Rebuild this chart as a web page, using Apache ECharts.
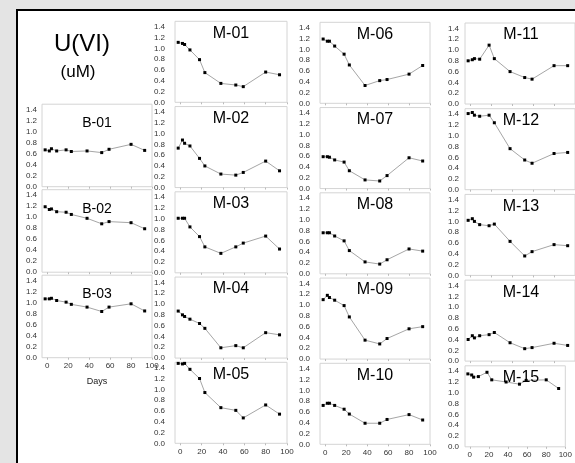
<!DOCTYPE html>
<html>
<head>
    <meta charset="utf-8">
    <title>U(VI)</title>
    <script src="https://cdn.jsdelivr.net/npm/echarts@6/dist/echarts.min.js"></script>
    <style>
        html, body { margin: 0; padding: 0; background: #e4e4e4; }
        #main { width: 575px; height: 463px; }
    </style>
</head>
<body>
<div id="main"></div>
<script type="text/javascript">
    // sampling days (same for every well)
    var days = [-2, 2, 4, 9, 18, 23, 38, 52, 59, 80, 93];
    var xTicks = [0, 20, 40, 60, 80, 100];
    var yTicks = [0, 0.2, 0.4, 0.6, 0.8, 1.0, 1.2, 1.4];

    // U(VI) in uM per well
    var B01 = [0.67, 0.65, 0.69, 0.65, 0.67, 0.64, 0.65, 0.62, 0.68, 0.77, 0.66];
    var B02 = [1.19, 1.14, 1.15, 1.10, 1.09, 1.05, 0.98, 0.88, 0.92, 0.90, 0.79];
    var B03 = [1.07, 1.07, 1.08, 1.04, 1.01, 0.97, 0.92, 0.84, 0.92, 0.98, 0.85];
    var M01 = [1.11, 1.09, 1.07, 0.97, 0.79, 0.55, 0.35, 0.32, 0.29, 0.56, 0.51];
    var M02 = [0.73, 0.88, 0.82, 0.77, 0.54, 0.40, 0.25, 0.23, 0.28, 0.49, 0.31];
    var M03 = [1.01, 1.01, 1.01, 0.85, 0.67, 0.48, 0.36, 0.48, 0.55, 0.68, 0.44];
    var M04 = [0.87, 0.80, 0.77, 0.72, 0.64, 0.55, 0.19, 0.23, 0.19, 0.47, 0.43];
    var M05 = [1.48, 1.47, 1.48, 1.37, 1.20, 0.94, 0.66, 0.61, 0.47, 0.71, 0.54];
    var M06 = [1.19, 1.15, 1.15, 1.06, 0.91, 0.71, 0.33, 0.42, 0.44, 0.54, 0.70];
    var M07 = [0.59, 0.59, 0.58, 0.53, 0.49, 0.33, 0.16, 0.14, 0.24, 0.57, 0.51];
    var M08 = [0.76, 0.76, 0.76, 0.70, 0.61, 0.43, 0.22, 0.18, 0.26, 0.46, 0.42];
    var M09 = [1.10, 1.18, 1.14, 1.09, 0.99, 0.78, 0.35, 0.28, 0.38, 0.56, 0.60];
    var M10 = [0.72, 0.76, 0.76, 0.72, 0.65, 0.56, 0.39, 0.39, 0.46, 0.55, 0.45];
    var M11 = [0.80, 0.82, 0.84, 0.83, 1.09, 0.84, 0.60, 0.49, 0.46, 0.71, 0.71];
    var M12 = [1.41, 1.43, 1.38, 1.36, 1.38, 1.24, 0.76, 0.55, 0.49, 0.67, 0.69];
    var M13 = [1.02, 1.05, 1.00, 0.94, 0.92, 0.95, 0.63, 0.36, 0.44, 0.57, 0.55];
    var M14 = [0.40, 0.47, 0.43, 0.47, 0.49, 0.53, 0.34, 0.23, 0.25, 0.33, 0.29];
    var M15 = [1.35, 1.33, 1.29, 1.30, 1.38, 1.24, 1.20, 1.16, 1.23, 1.24, 1.08];

    var columns = [
        { names: ['B-01', 'B-02', 'B-03'], values: [B01, B02, B03],
          left: 42, width: 110, bottom0: 186.7, step: 85.5, height: 82.5, labelGap: 5, titleDy: 19, titleSize: 14 },
        { names: ['M-01', 'M-02', 'M-03', 'M-04', 'M-05'], values: [M01, M02, M03, M04, M05],
          left: 175, width: 112, bottom0: 102.3, step: 85.25, height: 81, labelGap: 10, titleDy: 12, titleSize: 16 },
        { names: ['M-06', 'M-07', 'M-08', 'M-09', 'M-10'], values: [M06, M07, M08, M09, M10],
          left: 320, width: 110, bottom0: 103.3, step: 85.25, height: 81, labelGap: 10, titleDy: 12, titleSize: 16 },
        { names: ['M-11', 'M-12', 'M-13', 'M-14', 'M-15'], values: [M11, M12, M13, M14, M15],
          left: 465, width: 112, bottom0: 104, step: 85.7, height: 81, labelGap: 6, titleDy: 12, titleSize: 16 }
    ];

    var tickFont = "'Liberation Sans Narrow', 'Liberation Sans', Arial, sans-serif";
    var option = {
        backgroundColor: '#e4e4e4',
        animation: false,
        grid: [], xAxis: [], yAxis: [], series: [],
        graphic: [
            { type: 'rect', z: -10, shape: { x: 17, y: 10, width: 600, height: 500 },
              style: { fill: '#fff', stroke: '#000', lineWidth: 2 } },
            { type: 'text', z: 100, x: 82, y: 44,
              style: { text: 'U(VI)', font: "24px 'Liberation Sans', Arial", fill: '#000',
                       textAlign: 'center', textVerticalAlign: 'middle' } },
            { type: 'text', z: 100, x: 78, y: 72,
              style: { text: '(uM)', font: "17px 'Liberation Sans', Arial", fill: '#000',
                       textAlign: 'center', textVerticalAlign: 'middle' } },
            { type: 'text', z: 100, x: 97, y: 382,
              style: { text: 'Days', font: "9px 'Liberation Sans', Arial", fill: '#222',
                       textAlign: 'center', textVerticalAlign: 'middle' } }
        ]
    };

    var idx = 0;
    columns.forEach(function (col) {
        col.names.forEach(function (name, r) {
            var top = col.bottom0 + r * col.step - col.height;
            var isLast = r === col.names.length - 1;
            option.grid.push({
                left: col.left, top: top, width: col.width, height: col.height,
                show: true, borderColor: '#d4d4d4', borderWidth: 1, backgroundColor: '#fff'
            });
            option.xAxis.push({
                type: 'value', gridIndex: idx, min: -5, max: 100,
                axisLine: { show: false },
                splitLine: { show: false },
                axisTick: { show: true, customValues: xTicks, length: 2, lineStyle: { color: '#bbb' } },
                axisLabel: { show: isLast, customValues: xTicks, fontSize: 8, color: '#333',
                             fontFamily: tickFont, margin: 4 }
            });
            option.yAxis.push({
                type: 'value', gridIndex: idx, min: 0, max: 1.5,
                axisLine: { show: false },
                splitLine: { show: false },
                axisTick: { show: false },
                axisLabel: { customValues: yTicks, fontSize: 8, color: '#333', fontFamily: tickFont,
                             margin: col.labelGap,
                             formatter: function (v) { return v.toFixed(1); } }
            });
            option.series.push({
                type: 'line', name: name, xAxisIndex: idx, yAxisIndex: idx,
                data: days.map(function (d, i) { return [d, col.values[r][i]]; }),
                symbol: 'rect', symbolSize: 3,
                itemStyle: { color: '#000' },
                lineStyle: { color: '#a6a6a6', width: 1 }
            });
            option.graphic.push({
                type: 'text', z: 100, x: col.left + col.width / 2, y: top + col.titleDy,
                style: { text: name, font: col.titleSize + "px 'Liberation Sans', Arial",
                         fill: '#000', textAlign: 'center', textVerticalAlign: 'middle' }
            });
            idx++;
        });
    });

    var myChart = echarts.init(document.getElementById('main'));
    myChart.setOption(option);
</script>
</body>
</html>
